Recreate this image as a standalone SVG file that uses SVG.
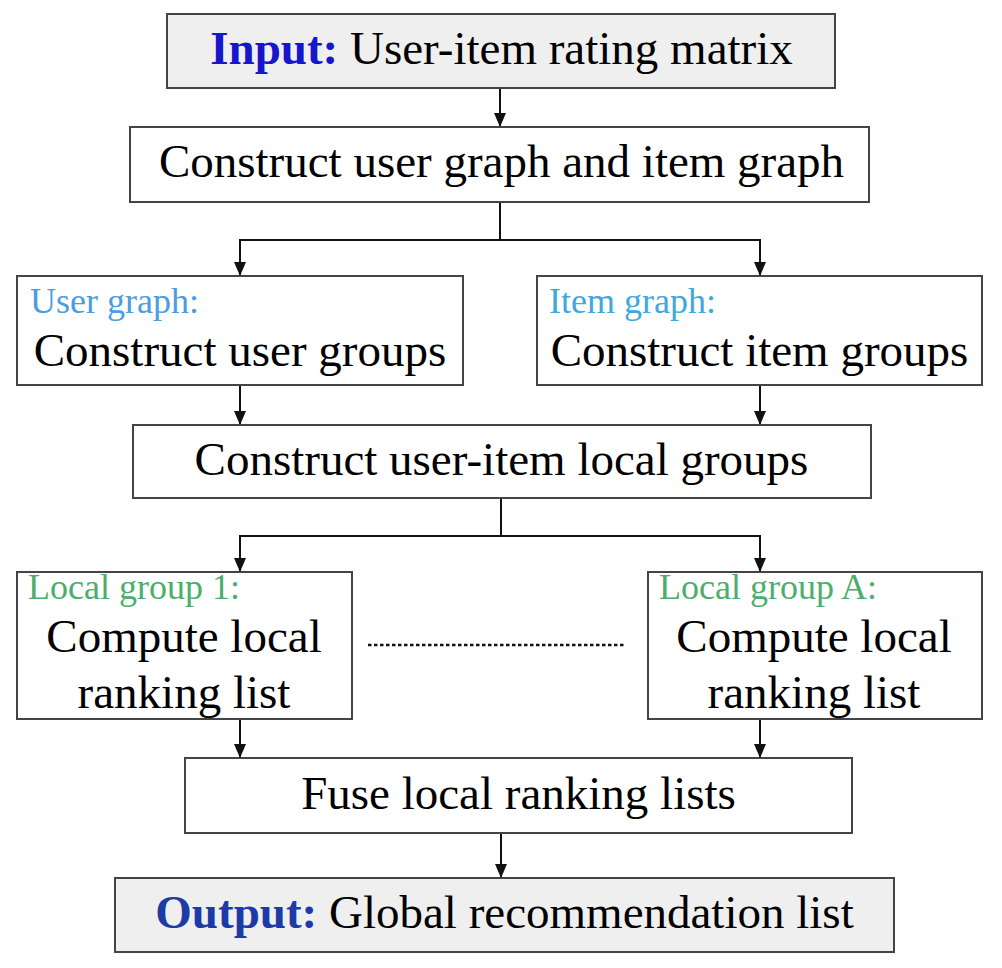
<svg xmlns="http://www.w3.org/2000/svg" width="1002" height="968" viewBox="0 0 1002 968">
  <defs>
    <marker id="arr" markerUnits="userSpaceOnUse" markerWidth="16" markerHeight="14" refX="14" refY="6" orient="auto">
      <path d="M0,0 L14,6 L0,12 z" fill="#111"/>
    </marker>
    <style>
      .box { fill: #ffffff; stroke: #444; stroke-width: 2; }
      .gray { fill: #efefef; }
      .t { font-family: "Liberation Serif", "Times New Roman", serif; font-size: 47px; fill: #000; }
      .mid { text-anchor: middle; }
      .lbl { font-family: "Liberation Serif", "Times New Roman", serif; font-size: 36px; }
      .blueL { fill: #4a9de0; }
      .blueI { fill: #40a8dc; }
      .green { fill: #4cae6a; }
      .kw1 { font-weight: bold; fill: #1616cc; }
      .kw2 { font-weight: bold; fill: #1c3aa8; }
      .conn { fill: none; stroke: #111; stroke-width: 2; }
    </style>
  </defs>
  <rect width="1002" height="968" fill="#ffffff"/>

  <g id="connectors">
    <line class="conn" x1="500" y1="88" x2="500" y2="127" marker-end="url(#arr)"/>
    <polyline class="conn" points="500,202 500,240"/>
    <polyline class="conn" points="500,240 240,240 240,276" marker-end="url(#arr)"/>
    <polyline class="conn" points="500,240 760,240 760,276" marker-end="url(#arr)"/>
    <line class="conn" x1="240" y1="385" x2="240" y2="425" marker-end="url(#arr)"/>
    <line class="conn" x1="760" y1="385" x2="760" y2="425" marker-end="url(#arr)"/>
    <polyline class="conn" points="501,498 501,536"/>
    <polyline class="conn" points="501,536 240,536 240,572" marker-end="url(#arr)"/>
    <polyline class="conn" points="501,536 760,536 760,572" marker-end="url(#arr)"/>
    <line class="conn" x1="240" y1="719" x2="240" y2="758" marker-end="url(#arr)"/>
    <line class="conn" x1="760" y1="719" x2="760" y2="758" marker-end="url(#arr)"/>
    <line class="conn" x1="501" y1="833" x2="501" y2="878" marker-end="url(#arr)"/>
    <line x1="368" y1="645" x2="625" y2="645" stroke="#111" stroke-width="2.5" stroke-dasharray="3.5 2.5"/>
  </g>

  <g id="input">
    <rect class="box gray" x="167" y="14" width="668" height="74"/>
    <text class="t mid" x="501.5" y="64"><tspan class="kw1">Input:</tspan> User-item rating matrix</text>
  </g>

  <g id="construct-graphs">
    <rect class="box" x="130" y="127" width="739" height="75"/>
    <text class="t mid" x="501.5" y="177">Construct user graph and item graph</text>
  </g>

  <g id="user-groups">
    <rect class="box" x="17" y="276" width="446" height="109"/>
    <text class="lbl blueL" x="30" y="313">User graph:</text>
    <text class="t mid" x="240" y="366">Construct user groups</text>
  </g>

  <g id="item-groups">
    <rect class="box" x="537" y="276" width="445" height="109"/>
    <text class="lbl blueI" x="549" y="313">Item graph:</text>
    <text class="t mid" x="759.5" y="366">Construct item groups</text>
  </g>

  <g id="local-groups">
    <rect class="box" x="133" y="425" width="738" height="73"/>
    <text class="t mid" x="501.5" y="475">Construct user-item local groups</text>
  </g>

  <g id="local-1">
    <rect class="box" x="17" y="572" width="335" height="147"/>
    <text class="lbl green" x="28" y="599">Local group 1:</text>
    <text class="t mid" x="184" y="652">Compute local</text>
    <text class="t mid" x="184" y="708">ranking list</text>
  </g>

  <g id="local-A">
    <rect class="box" x="648" y="572" width="334" height="147"/>
    <text class="lbl green" x="659" y="599">Local group A:</text>
    <text class="t mid" x="814" y="652">Compute local</text>
    <text class="t mid" x="814" y="708">ranking list</text>
  </g>

  <g id="fuse">
    <rect class="box" x="185" y="758" width="667" height="75"/>
    <text class="t mid" x="518.5" y="809">Fuse local ranking lists</text>
  </g>

  <g id="output">
    <rect class="box gray" x="115" y="878" width="779" height="74"/>
    <text class="t mid" x="504.5" y="928"><tspan class="kw2">Output:</tspan> Global recommendation list</text>
  </g>
</svg>
